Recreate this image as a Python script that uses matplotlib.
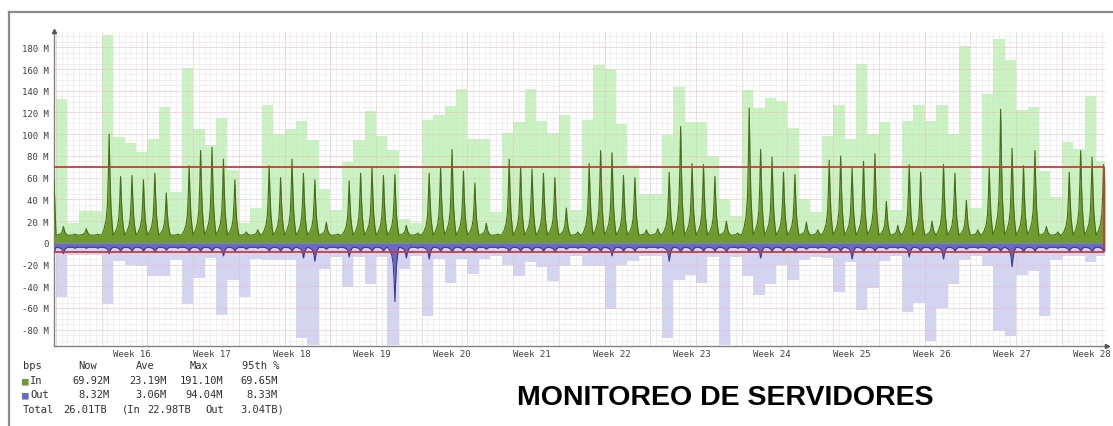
import matplotlib

matplotlib.use("Agg")
import matplotlib.pyplot as plt
import numpy as np

W, H = 1113, 427

# ---- data: one entry per day, Mbit/s (day 4 is the first Monday) ----
in_max = [132, 18, 29, 29,
          191, 97, 92, 84, 96, 125, 47,
          161, 105, 90, 115, 67, 18, 32,
          127, 100, 105, 112, 95, 50, 30,
          74, 95, 121, 98, 85, 22, 18,
          113, 118, 126, 142, 96, 96, 28,
          101, 111, 142, 112, 101, 118, 30,
          113, 164, 160, 109, 72, 45, 45,
          99, 143, 111, 111, 80, 40, 25,
          141, 124, 133, 131, 106, 40, 28,
          98, 127, 96, 165, 100, 111, 30,
          112, 127, 112, 127, 100, 181, 32,
          137, 188, 168, 122, 125, 66, 42,
          93, 86, 135, 75]
out_max = [-50, -11, -11, -11,
           -56, -17, -20, -21, -31, -31, -16,
           -56, -32, -14, -66, -34, -50, -15,
           -16, -16, -16, -88, -94, -24, -13,
           -41, -13, -38, -13, -94, -24, -12,
           -67, -15, -37, -15, -29, -15, -12,
           -20, -31, -18, -22, -35, -21, -12,
           -21, -21, -61, -20, -17, -12, -12,
           -88, -34, -30, -37, -13, -94, -13,
           -31, -48, -38, -20, -34, -16, -13,
           -14, -45, -18, -62, -42, -17, -12,
           -64, -55, -90, -60, -38, -16, -12,
           -21, -81, -86, -30, -26, -67, -16,
           -12, -12, -18, -12]
in_peak = [15, 8, 13, 8,
           100, 61, 62, 58, 64, 46, 8,
           71, 85, 88, 77, 58, 10, 12,
           71, 60, 77, 64, 58, 19, 8,
           57, 64, 70, 62, 63, 16, 9,
           64, 69, 86, 66, 55, 18, 8,
           77, 70, 68, 64, 60, 32, 10,
           73, 85, 83, 62, 60, 12, 13,
           65, 107, 73, 72, 61, 20, 9,
           124, 86, 79, 65, 63, 19, 12,
           76, 80, 70, 75, 82, 38, 16,
           72, 65, 20, 72, 64, 39, 12,
           69, 123, 87, 71, 85, 15, 10,
           65, 85, 79, 72]
out_dip = [-10, -5, -5, -5,
           -10, -8, -8, -8, -9, -7, -5,
           -8, -8, -8, -12, -8, -6, -5,
           -8, -8, -8, -14, -17, -6, -5,
           -13, -8, -8, -8, -54, -14, -5,
           -15, -8, -9, -8, -9, -6, -5,
           -9, -8, -8, -8, -9, -6, -5,
           -8, -8, -12, -8, -8, -5, -5,
           -17, -9, -9, -8, -8, -9, -5,
           -9, -14, -8, -8, -9, -6, -5,
           -8, -8, -15, -9, -8, -6, -5,
           -13, -8, -8, -15, -8, -6, -5,
           -8, -8, -22, -9, -8, -6, -5,
           -8, -8, -9, -8]
in_start, out_start = 58, -9
in_now, out_now = 69.92, -8.32
in_base, out_base = 7, -4
in_p95, out_p95 = 69.65, 8.33

week_names = [f"Week {w}" for w in range(16, 29)]
week_at = [6.65 + 7 * i for i in range(len(week_names))]
y_ticks = list(range(-80, 181, 20))

legend_rows = [
    ("bps", "Now", "Ave", "Max", "95th %"),
    ("In", "69.92M", "23.19M", "191.10M", "69.65M"),
    ("Out", "8.32M", "3.06M", "94.04M", "8.33M"),
]
total_row = ["Total", "26.01TB", "(In", "22.98TB", "Out", "3.04TB)"]

# ---- style ----
LIGHT_IN, LIGHT_OUT = "#c8f4bf", "#d3d3f4"
IN_FILL, IN_EDGE = "#6f9b2d", "#4a6a1a"
OUT_FILL, OUT_EDGE = "#6a6ac4", "#3d3d8f"
RED = "#cc3a3a"
MONO = "DejaVu Sans Mono"

X0, X_END = -0.175, 91.78
SPIKE_AT = np.array([0.0, 0.2, 0.38, 0.5, 0.58, 0.65, 0.72, 0.8, 0.9, 0.97])
SPIKE_SHAPE = np.array([0.0, 0.06, 0.15, 0.3, 0.6, 1.0, 0.6, 0.3, 0.12, 0.04])


def daily_line(base, peaks, start, now):
    t, v = [X0], [start]
    for d, p in enumerate(peaks):
        for f, s in zip(d + SPIKE_AT, SPIKE_SHAPE):
            if f < X_END:
                t.append(f); v.append(base + (p - base) * s)
    t.append(X_END); v.append(now)
    return np.array(t), np.array(v)


fig = plt.figure(figsize=(W / 100, H / 100), dpi=100)
fig.patch.set_facecolor("white")
ax = fig.add_axes([54 / W, 80 / H, 1051 / W, 315 / H])

days = np.arange(len(in_max))
ax.bar(days, in_max, width=1, align="edge", color=LIGHT_IN, lw=0, zorder=1)
ax.bar(days, out_max, width=1, align="edge", color=LIGHT_OUT, lw=0, zorder=1)

# background grid, drawn over the light bars
ax.vlines(np.arange(0, 92, 0.5), -95, 195, color="#d8d8d8", lw=0.5,
          linestyles=(0, (1, 1)), zorder=1.5)
ax.hlines(np.arange(-90, 195, 5), X0, X_END, color="#d8d8d8", lw=0.5,
          linestyles=(0, (1, 1)), zorder=1.5)
ax.vlines(np.arange(0, 92, 4), -95, 195, color="#f0b8b8", lw=0.5,
          linestyles=(0, (1, 1)), zorder=1.6)
ax.hlines(np.arange(-80, 195, 20), X0, X_END, color="#f0b8b8", lw=0.5,
          linestyles=(0, (1, 1)), zorder=1.6)

t_in, v_in = daily_line(in_base, in_peak, in_start, in_now)
t_out, v_out = daily_line(out_base, out_dip, out_start, out_now)
ax.fill_between(t_in, 0, v_in, color=IN_FILL, lw=0, zorder=3)
ax.plot(t_in, v_in, color=IN_EDGE, lw=0.8, zorder=3.5)
ax.fill_between(t_out, 0, v_out, color=OUT_FILL, lw=0, zorder=3)
ax.plot(t_out, v_out, color=OUT_EDGE, lw=0.8, zorder=3.5)

red_end = 91.7
ax.hlines([in_p95, -out_p95], X0, red_end, color=RED, lw=1.3, zorder=4)
ax.vlines(red_end, -out_p95, in_p95, color=RED, lw=1.3, zorder=4)

ax.set_xlim(X0, X_END)
ax.set_ylim(-95, 195)
ax.set_facecolor("white")
for s in ("top", "right"):
    ax.spines[s].set_visible(False)
for s in ("left", "bottom"):
    ax.spines[s].set_color("#808080")
    ax.spines[s].set_linewidth(1.0)
ax.plot([X0], [195], marker="^", ms=3, color="#555555", clip_on=False, zorder=5)
ax.plot([X_END + 0.2], [-95], marker=">", ms=3, color="#555555", clip_on=False, zorder=5)

ax.set_xticks(week_at)
ax.set_xticklabels(week_names, fontsize=6.5, family=MONO, color="#404040")
ax.set_yticks(y_ticks)
ax.set_yticklabels([f"{v} M" if v else "0" for v in y_ticks],
                   fontsize=6.5, family=MONO, color="#404040")
ax.tick_params(axis="y", length=0, pad=4)
ax.tick_params(axis="x", length=0, pad=2)

# ---- legend block ----
rows_y = [366, 381, 395, 410]
for r, row in enumerate(legend_rows):
    y = 1 - rows_y[r] / H
    if r == 0:
        fig.text(23 / W, y, row[0], fontsize=7.5, family=MONO, color="#303030", va="center")
        rights = [97, 155, 208, 280]
    else:
        sq = IN_FILL if row[0] == "In" else OUT_FILL
        fig.text(22 / W, y, "■", fontsize=8, family=MONO, color=sq, va="center")
        fig.text(30 / W, y, row[0], fontsize=7.5, family=MONO, color="#303030", va="center")
        rights = [110, 167, 223, 278]
    for txt, xr in zip(row[1:], rights):
        fig.text(xr / W, y, txt, fontsize=7.5, family=MONO, color="#303030",
                 va="center", ha="right")
y = 1 - rows_y[3] / H
for txt, xl in zip(total_row, [23, 63, 122, 147, 205, 240]):
    fig.text(xl / W, y, txt, fontsize=7.5, family=MONO, color="#303030", va="center")

fig.text(517 / W, 1 - 398 / H, "MONITOREO DE SERVIDORES", fontsize=20.5,
         family="Liberation Sans", weight="bold", color="black", va="center")

# screenshot frame
fig.add_artist(plt.Line2D([9 / W, 1], [1 - 13 / H] * 2, color="#8a8a8a", lw=1.6))
fig.add_artist(plt.Line2D([9 / W] * 2, [0, 1 - 13 / H], color="#8a8a8a", lw=1.6))

fig.savefig("out.png", dpi=100, facecolor="white")
